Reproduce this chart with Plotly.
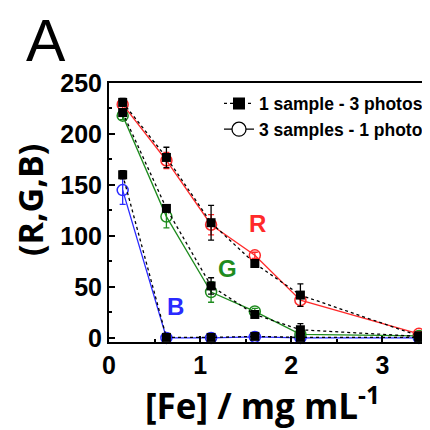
import plotly.graph_objects as go

fe = [0.15, 0.63, 1.12, 1.60, 2.10, 3.40]

# 1 sample - 3 photos (squares)
r_sq = [231, 177, 113, 73, 42, 2]
g_sq = [221, 127, 51, 23, 8, 1.5]
b_sq = [160, 0.5, 0.5, 1.5, 0.5, 0.5]
r_sq_err = [4, 10, 17, 3, 11, 2]
g_sq_err = [3, 3, 8, 3, 6, 2]
b_sq_err = [4, 1, 1, 2, 1, 1]

# 3 samples - 1 photo (circles)
r_ci = [229, 174, 111, 81, 37, 4]
g_ci = [218, 119, 45, 26, 3.5, 2]
b_ci = [145, 0, 0, 1, 0, 0]
r_ci_err = [4, 8, 10, 3, 6, 2]
g_ci_err = [4, 11, 10, 3, 3, 2]
b_ci_err = [14, 1, 1, 1, 1, 1]

channels = ["R", "G", "B"]
colors = {"R": "#ff2a2a", "G": "#1f8c1f", "B": "#2a2aff"}
label_pos = {"R": (1.63, 112), "G": (1.30, 68), "B": (0.73, 31)}

legend_names = ["1 sample - 3 photos", "3 samples - 1 photo"]
x_ticks = [0, 1, 2, 3]
y_ticks = [0, 50, 100, 150, 200, 250]

fig = go.Figure()

circ = {"R": (r_ci, r_ci_err), "G": (g_ci, g_ci_err), "B": (b_ci, b_ci_err)}
sq = {"R": (r_sq, r_sq_err), "G": (g_sq, g_sq_err), "B": (b_sq, b_sq_err)}

for ch in ["B", "G", "R"]:
    y, e = circ[ch]
    fig.add_trace(go.Scatter(
        x=fe, y=y, mode="lines+markers", showlegend=False, cliponaxis=False,
        line=dict(color=colors[ch], width=1.3),
        marker=dict(symbol="circle-open", size=11, color=colors[ch], line=dict(width=1.5)),
        error_y=dict(type="data", array=e, color=colors[ch], thickness=1.3, width=3),
    ))
for ch in ["B", "G", "R"]:
    y, e = sq[ch]
    fig.add_trace(go.Scatter(
        x=fe, y=y, mode="lines+markers", showlegend=False, cliponaxis=False,
        line=dict(color="black", width=1.3, dash="dot"),
        marker=dict(symbol="square", size=9, color="black", line=dict(width=0)),
        error_y=dict(type="data", array=e, color="black", thickness=1.3, width=3),
    ))

# legend entries
fig.add_trace(go.Scatter(
    x=[None], y=[None], mode="lines+markers", name="<b>%s</b>" % legend_names[0],
    line=dict(color="black", width=1.3, dash="dot"),
    marker=dict(symbol="square", size=12, color="black"),
))
fig.add_trace(go.Scatter(
    x=[None], y=[None], mode="lines+markers", name="<b>%s</b>" % legend_names[1],
    line=dict(color="black", width=1.3),
    marker=dict(symbol="circle", size=14, color="white", line=dict(color="black", width=1.3)),
))

for ch in channels:
    fig.add_annotation(x=label_pos[ch][0], y=label_pos[ch][1], text="<b>%s</b>" % ch,
                       showarrow=False, font=dict(size=24, color=colors[ch], family="Liberation Sans"))

# panel letter
fig.add_annotation(x=0, y=1.0, xref="paper", yref="paper", xanchor="center", yanchor="middle",
                   text="A", showarrow=False, xshift=-63, yshift=42,
                   font=dict(size=59, color="black", family="Liberation Sans"))
# axis titles
fig.add_annotation(x=0.48, y=0, xref="paper", yref="paper", xanchor="center", yanchor="middle",
                   text="<b>[Fe] / mg mL<sup>-1</sup></b>", showarrow=False, yshift=-61,
                   font=dict(size=35, color="black", family="Open Sans"))
fig.add_annotation(x=0, y=0.548, xref="paper", yref="paper", xanchor="center", yanchor="middle",
                   text="<b>(R,G,B)</b>", showarrow=False, xshift=-79, textangle=-90,
                   font=dict(size=34, color="black", family="Open Sans"))

axis_common = dict(showline=True, linewidth=2, linecolor="black", mirror=True,
                   ticks="inside", ticklen=6, tickwidth=1.5, tickcolor="black",
                   showgrid=False, zeroline=False, automargin=False,
                   tickfont=dict(size=25, family="Liberation Sans", color="black"))

fig.update_xaxes(range=[0, 3.5], tickvals=x_ticks, ticktext=["<b>%s</b>" % v for v in x_ticks],
                 minor=dict(ticks="inside", ticklen=3, dtick=0.5, tickcolor="black"),
                 **axis_common)
fig.update_yaxes(range=[-4, 250], tickvals=y_ticks, ticktext=["<b>%s</b>" % v for v in y_ticks],
                 minor=dict(ticks="inside", ticklen=3, dtick=25, tick0=0, tickcolor="black"),
                 **axis_common)

fig.update_layout(
    width=422, height=422,
    margin=dict(l=101, r=2, t=75, b=88, autoexpand=False),
    plot_bgcolor="white", paper_bgcolor="white",
    legend=dict(x=1.0, y=0.99, xanchor="right", yanchor="top", bgcolor="rgba(0,0,0,0)",
                font=dict(size=17.5, family="Liberation Sans", color="black"),
                itemwidth=30, tracegroupgap=0),
    showlegend=True,
)

fig.write_html("out.html")
